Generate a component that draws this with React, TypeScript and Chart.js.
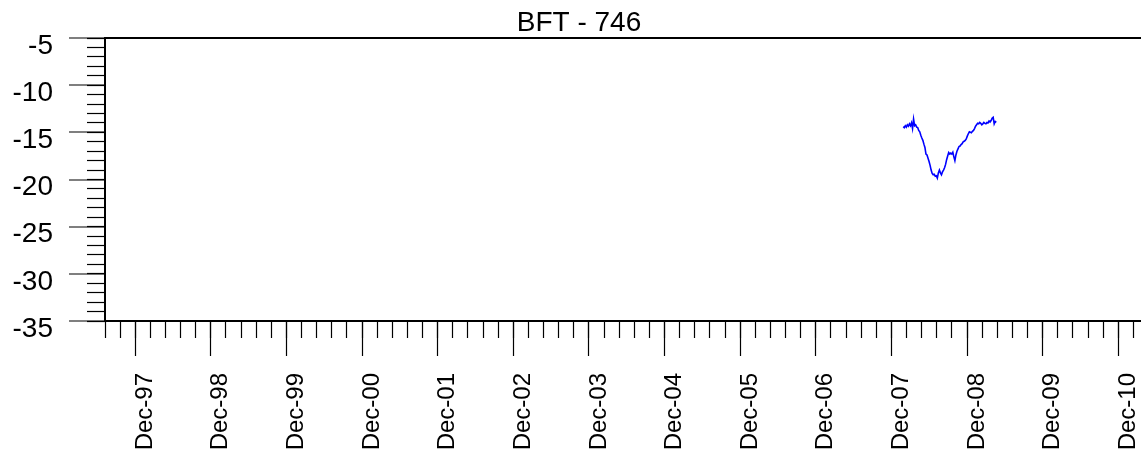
import React, { useEffect, useRef } from 'react';
import { Chart, registerables } from 'chart.js';

Chart.register(...registerables);

const TITLE = 'BFT - 746';
const FONT = '"Liberation Sans", Arial, Helvetica, sans-serif';

const X_TICK_LABELS = [
  'Dec-97', 'Dec-98', 'Dec-99', 'Dec-00', 'Dec-01', 'Dec-02', 'Dec-03',
  'Dec-04', 'Dec-05', 'Dec-06', 'Dec-07', 'Dec-08', 'Dec-09', 'Dec-10',
];
const Y_MAJOR_TICKS = [-35, -30, -25, -20, -15, -10, -5];
const Y_MIN = -35;
const Y_MAX = -5;

// Readings every 5 days
const SERIES_START = '2008-01-27';
const SERIES_STEP_DAYS = 5;
const SERIES_VALUES = [
  -14.4, -14.5, -14.3, -14.45, -14.2, -14.35, -14.1, -14.3, -14.0, -14.6,
  -13.6, -14.3, -14.2, -14.45, -14.5, -14.8, -14.95, -15.3, -15.6, -15.85,
  -16.25, -16.6, -17.3, -17.4, -17.75, -18.1, -18.5, -19.0, -19.35, -19.5,
  -19.45, -19.65, -19.6, -19.85, -19.3, -19.0, -19.3, -19.5, -19.2, -19.0,
  -18.75, -18.4, -17.9, -17.5, -17.15, -17.3, -17.2, -17.3, -17.1, -17.6,
  -18.0, -17.4, -17.0, -16.75, -16.5, -16.45, -16.3, -16.2, -16.0, -15.95,
  -15.85, -15.7, -15.4, -15.15, -14.95, -15.0, -15.05, -14.9, -14.8, -14.6,
  -14.35, -14.2, -14.05, -14.1, -13.95, -14.05, -14.2, -14.1, -13.95, -14.05,
  -14.1, -13.95, -14.0, -13.8, -13.9, -13.75, -13.5, -13.4, -14.1, -13.85,
  -13.95,
];

const MONTHS = ['Jan', 'Feb', 'Mar', 'Apr', 'May', 'Jun', 'Jul', 'Aug', 'Sep', 'Oct', 'Nov', 'Dec'];

function toYear(ms: number): number {
  const d = new Date(ms);
  const y = d.getUTCFullYear();
  const s = Date.UTC(y, 0, 1);
  const e = Date.UTC(y + 1, 0, 1);
  return y + (ms - s) / (e - s);
}

function labelToYear(lbl: string): number {
  const [m, yy] = lbl.split('-');
  const n = parseInt(yy, 10);
  const y = n < 50 ? 2000 + n : 1900 + n;
  return toYear(Date.UTC(y, MONTHS.indexOf(m), 1));
}

const MAJOR_X = X_TICK_LABELS.map(labelToYear);
const X_MIN = MAJOR_X[0] - 0.4;
const X_MAX = X_MIN + 13.925;
const MINOR_X: number[] = [];
for (let k = 0; X_MIN + k * 0.2 <= X_MAX + 1e-9; k++) MINOR_X.push(X_MIN + k * 0.2);
const MINOR_Y: number[] = [];
for (let v = Y_MIN; v <= Y_MAX; v++) MINOR_Y.push(v);

const startMs = Date.parse(SERIES_START + 'T00:00:00Z');
const POINTS = SERIES_VALUES.map((v, i) => ({
  x: toYear(startMs + i * SERIES_STEP_DAYS * 86400000),
  y: v,
}));

export default function App() {
  const ref = useRef<HTMLCanvasElement | null>(null);

  useEffect(() => {
    if (!ref.current) return;
    const chart = new Chart(ref.current, {
      type: 'line',
      data: {
        datasets: [
          {
            data: POINTS,
            borderColor: '#0000ff',
            borderWidth: 1.6,
            pointRadius: 0,
            tension: 0,
            xAxisID: 'x',
            yAxisID: 'y',
          },
        ],
      },
      options: {
        animation: false,
        responsive: false,
        layout: { padding: 0 },
        plugins: {
          legend: { display: false },
          tooltip: { enabled: false },
          title: {
            display: true,
            text: TITLE,
            color: '#000',
            font: { family: FONT, size: 28, weight: 'normal', lineHeight: 1 },
            padding: { top: 9, bottom: 1 },
          },
        },
        scales: {
          x: {
            type: 'linear',
            position: 'bottom',
            min: X_MIN,
            max: X_MAX,
            afterBuildTicks: (s: any) => {
              s.ticks = MAJOR_X.map((v) => ({ value: v }));
            },
            afterFit: (s: any) => {
              s.height = 133;
              s.paddingLeft = 0;
              s.paddingRight = 0;
            },
            ticks: {
              autoSkip: false,
              minRotation: 90,
              maxRotation: 90,
              padding: 17,
              labelOffset: 10,
              color: '#000',
              font: { family: FONT, size: 24 },
              callback: (_v: any, i: number) => X_TICK_LABELS[i],
            },
            grid: {
              drawOnChartArea: false,
              drawTicks: true,
              tickLength: 35,
              tickWidth: 1.2,
              tickColor: '#000',
              color: '#000',
            },
            border: { display: true, color: '#000', width: 2 },
          },
          xm: {
            type: 'linear',
            axis: 'x',
            position: { y: Y_MIN },
            min: X_MIN,
            max: X_MAX,
            afterBuildTicks: (s: any) => {
              s.ticks = MINOR_X.map((v) => ({ value: v }));
            },
            ticks: { display: false },
            grid: {
              drawOnChartArea: false,
              drawTicks: true,
              tickLength: 17,
              tickWidth: 1.2,
              tickColor: '#000',
              color: '#000',
            },
            border: { display: false },
          },
          y: {
            type: 'linear',
            position: 'left',
            min: Y_MIN,
            max: Y_MAX,
            afterBuildTicks: (s: any) => {
              s.ticks = Y_MAJOR_TICKS.map((v) => ({ value: v }));
            },
            afterFit: (s: any) => {
              s.width = 105;
              s.paddingTop = 0;
              s.paddingBottom = 0;
            },
            ticks: {
              padding: 16,
              labelOffset: 8,
              color: '#000',
              font: { family: FONT, size: 28 },
              callback: (v: any) => String(v),
            },
            grid: {
              drawOnChartArea: true,
              drawTicks: true,
              tickLength: 36,
              tickWidth: 1.2,
              tickColor: '#000',
              lineWidth: 2,
              color: (ctx: any) => (ctx.tick && ctx.tick.value === Y_MAX ? '#000' : 'rgba(0,0,0,0)'),
            },
            border: { display: true, color: '#000', width: 2 },
          },
          ym: {
            type: 'linear',
            axis: 'y',
            position: { x: X_MIN },
            min: Y_MIN,
            max: Y_MAX,
            afterBuildTicks: (s: any) => {
              s.ticks = MINOR_Y.map((v) => ({ value: v }));
            },
            ticks: { display: false },
            grid: {
              drawOnChartArea: false,
              drawTicks: true,
              tickLength: 18,
              tickWidth: 1.2,
              tickColor: '#000',
              color: '#000',
            },
            border: { display: false },
          },
        },
      } as any,
    });
    return () => chart.destroy();
  }, []);

  return (
    <div
      style={{
        position: 'fixed',
        left: 0,
        top: 0,
        width: 1141,
        height: 454,
        overflow: 'hidden',
        background: '#fff',
      }}
    >
      <canvas ref={ref} width={1158} height={454} style={{ display: 'block' }} />
    </div>
  );
}
